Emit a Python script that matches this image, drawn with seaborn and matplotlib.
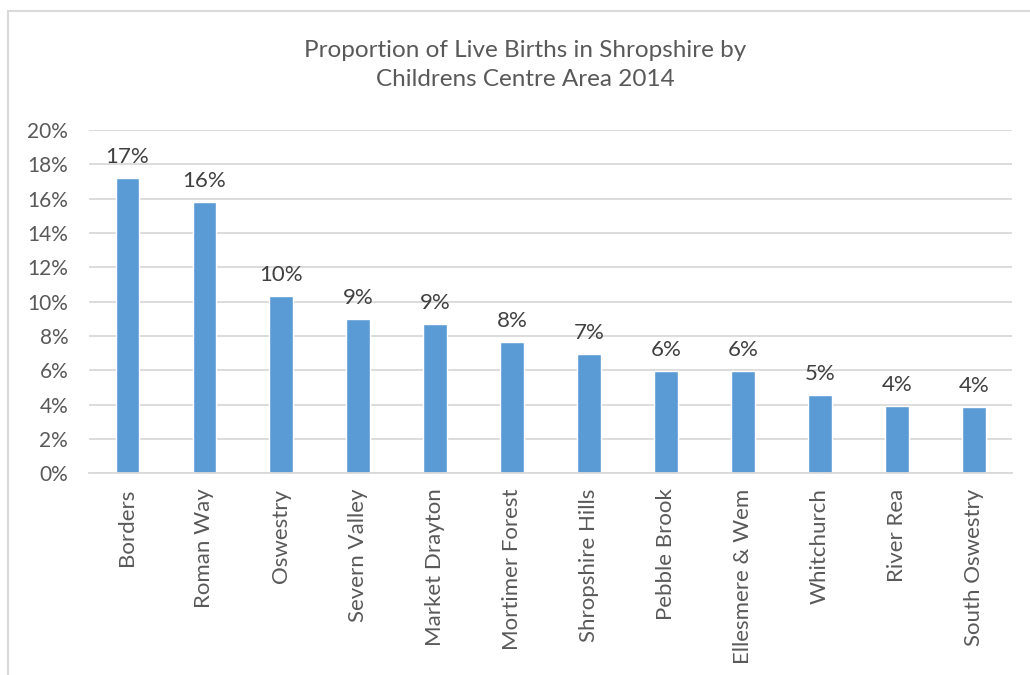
import pandas as pd
import matplotlib.pyplot as plt
import matplotlib.patches as mpatches
from matplotlib.ticker import PercentFormatter
import seaborn as sns

# data (percent of live births)
areas = ['Borders', 'Roman Way', 'Oswestry', 'Severn Valley', 'Market Drayton',
         'Mortimer Forest', 'Shropshire Hills', 'Pebble Brook', 'Ellesmere & Wem',
         'Whitchurch', 'River Rea', 'South Oswestry']
share = [17.2, 15.8, 10.35, 8.97, 8.7, 7.67, 6.93, 5.98, 5.94, 4.58, 3.92, 3.86]

df = pd.DataFrame({'Area': areas, 'Share': share})

sns.set_theme(style="white")
plt.rcParams['font.family'] = ['Lato', 'DejaVu Sans']

fig = plt.figure(figsize=(10.3, 6.75), dpi=100)
ax = fig.add_axes([0.0864, 0.2988, 0.8966, 0.5086])

sns.barplot(data=df, x='Area', y='Share', color='#5B9BD5', width=0.31,
            saturation=1, ax=ax)

ax.set_xlim(-0.5, len(areas) - 0.5)
ax.set_ylim(0, 20)
ax.set_yticks(range(0, 21, 2))
ax.yaxis.set_major_formatter(PercentFormatter(decimals=0))
ax.grid(axis='y', color='#d9d9d9', linewidth=1.3)
ax.set_axisbelow(True)
for s in ['top', 'right', 'left']:
    ax.spines[s].set_visible(False)
ax.spines['bottom'].set_color('#d9d9d9')
ax.spines['bottom'].set_linewidth(1.3)

ax.tick_params(axis='y', labelsize=15, labelcolor='#595959', length=0, pad=15)
ax.tick_params(axis='x', labelsize=16, labelcolor='#595959', length=0, pad=11)
plt.setp(ax.get_xticklabels(), rotation=90, ha='center', va='top')
ax.set_xlabel('')
ax.set_ylabel('')

# data labels
for i, v in enumerate(share):
    ax.annotate(f'{v:.0f}%', (i, v), xytext=(0, 8), textcoords='offset points',
                ha='center', va='bottom', fontsize=16, color='#404040')

fig.text(0.51, 0.904, 'Proportion of Live Births in Shropshire by\nChildrens Centre Area 2014',
         ha='center', va='center', fontsize=17.5, color='#595959', linespacing=1.45)

# chart area border (only top and left visible in the crop)
fig.patches.append(mpatches.Rectangle((8 / 1030, -0.1), 1.2, 1 - 11 / 675 + 0.1,
                                      transform=fig.transFigure, fill=False,
                                      edgecolor='#d9d9d9', linewidth=1.5))

plt.savefig('out.png', dpi=100)
